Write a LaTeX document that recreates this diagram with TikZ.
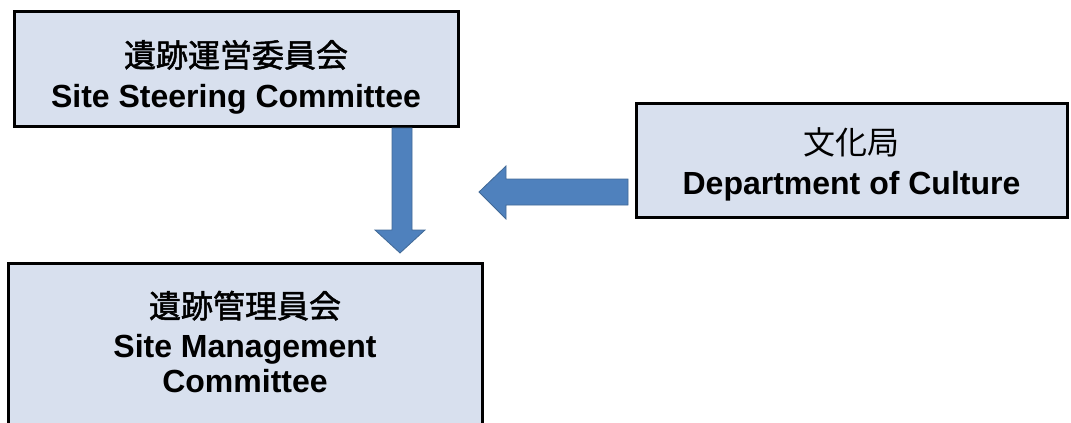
\documentclass[tikz,border=0pt]{standalone}
\usepackage{fontspec}
\setmainfont{Liberation Sans}
\newfontfamily\cjk{Noto Sans CJK JP}
\newfontfamily\cjkb{Noto Sans CJK JP}[FakeBold=1.6]
\definecolor{boxfill}{RGB}{216,224,238}
\definecolor{arrfill}{RGB}{79,129,189}
\definecolor{arrline}{RGB}{65,105,150}
\tikzset{
  orgbox/.style={draw=black, line width=3pt, fill=boxfill, inner sep=0pt},
  lbl/.style={align=center, inner sep=0pt, font=\fontsize{32}{35}\selectfont},
  blockarrow/.style={fill=arrfill, draw=arrline, line width=0.8pt}
}
\begin{document}
\begin{tikzpicture}[x=1pt,y=-1pt]
\useasboundingbox (0,0) rectangle (1071,423);
\clip (0,0) rectangle (1071,423);
% boxes
\node[orgbox, minimum width=444pt, minimum height=115pt] (steer) at (236,68.5) {};
\node[orgbox, minimum width=431pt, minimum height=114pt] (dept) at (851.5,160) {};
\node[orgbox, minimum width=474pt, minimum height=190pt] (mgmt) at (245,358) {};
% labels
\node[lbl] (steerT) at (236,77) {{\cjkb 遺跡運営委員会}\\[5pt]\textbf{Site Steering Committee}};
\node[lbl] (deptT) at (851.5,164) {{\cjk 文化局}\\[5pt]\textbf{Department of Culture}};
\node[lbl] (mgmtT) at (245,342) {{\cjkb 遺跡管理員会}\\[5pt]\textbf{Site Management}\\\textbf{Committee}};
% block arrows
\draw[blockarrow] (392,128) -- (412,128) -- (412,230) -- (425,230) -- (400,253) -- (375,230) -- (392,230) -- cycle;
\draw[blockarrow] (628,179) -- (506,179) -- (506,166) -- (479,192) -- (506,219) -- (506,205) -- (628,205) -- cycle;
\end{tikzpicture}
\end{document}
